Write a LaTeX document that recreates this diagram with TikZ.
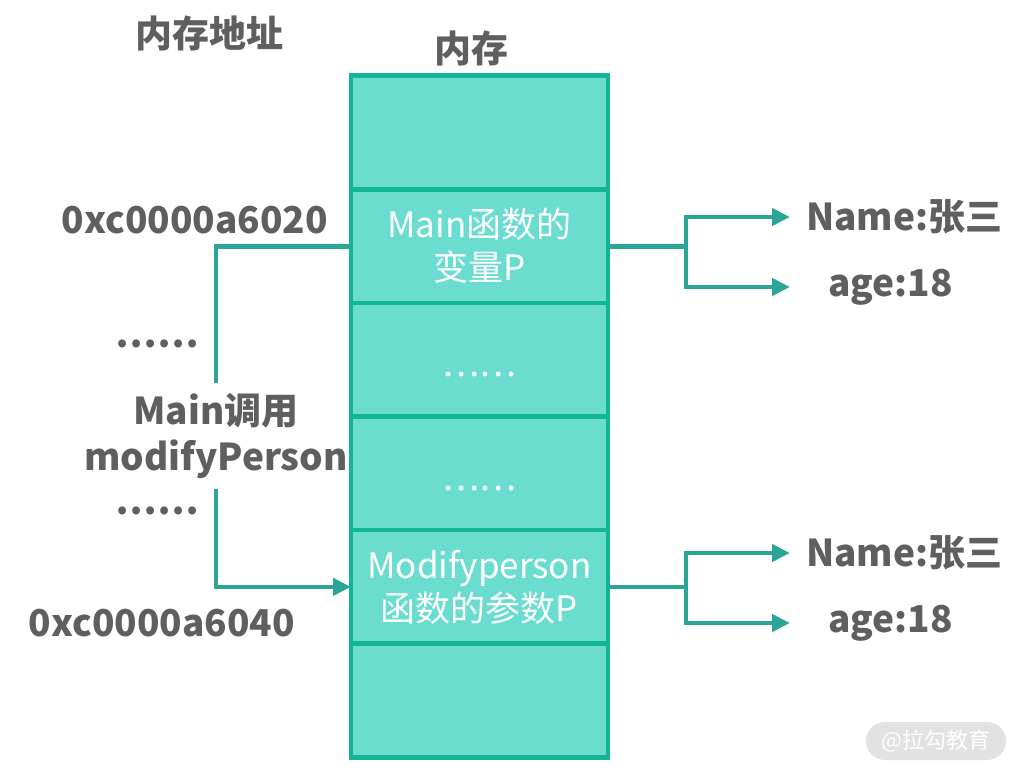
\documentclass[tikz,border=0pt]{standalone}
\usepackage{fontspec}
\setmainfont{Noto Sans CJK SC}
\usetikzlibrary{positioning,arrows.meta,shadows}

\definecolor{cellfill}{RGB}{106,221,208}
\definecolor{cellline}{RGB}{18,182,150}
\definecolor{linkcol}{RGB}{42,165,150}
\definecolor{labgray}{RGB}{95,95,95}
\definecolor{markgray}{RGB}{226,226,226}

\begin{document}
\begin{tikzpicture}[x=1pt,y=-1pt,
  cell/.style={rectangle,draw=cellline,fill=cellfill,line width=4.5pt,
    minimum width=257pt,minimum height=113.6pt,inner sep=0pt,outer sep=0pt,
    text=white,align=center,font=\fontsize{35}{43}\selectfont,
    drop shadow={shadow xshift=2pt,shadow yshift=-3pt,opacity=0.25}},
  lab/.style={text=labgray,inner sep=0pt,align=center,
    font=\fontsize{37}{46}\selectfont\bfseries},
  tag/.style={lab,anchor=west,outer xsep=16pt},
  link/.style={draw=linkcol,line width=4.8pt},
  arr/.style={link,-{Triangle[length=18pt,width=17pt]}}]
\useasboundingbox (0,0) rectangle (1023,773);

% memory column
\node (c1) [cell] at (479.5,132.5) {};
\node (c2) [cell,below=0pt of c1] {Main函数的\\变量P};
\node (c3) [cell,below=0pt of c2] {\raisebox{-17pt}[0pt][0pt]{……}};
\node (c4) [cell,below=0pt of c3] {\raisebox{-17pt}[0pt][0pt]{……}};
\node (c5) [cell,below=0pt of c4] {Modifyperson\\函数的参数P};
\node (c6) [cell,below=0pt of c5] {};

% headings and addresses
\node (addrhead) [lab] at (209,33) {内存地址};
\node (memhead) [lab] at (471,48) {内存};
\node (addr1) [lab] at (195,220) {0xc0000a6020};
\node (addr2) [lab] at (162,623) {0xc0000a6040};
\node (dots1) [lab] at (157,344) {……};
\node (dots2) [lab] at (157,511) {……};
\node (call) [lab,inner ysep=10pt] at (216,436) {Main调用\\modifyPerson};

% fields
\node (name1) [tag] at (790,217) {Name:张三};
\node (age1) [tag] at (812,287) {age:18};
\node (name2) [tag] at (790,553) {Name:张三};
\node (age2) [tag] at (812,623) {age:18};

% connectors
\draw [link] (c2.west) -| (call.north);
\draw [arr] (call.south) |- (c5.west);
\draw [link] (c2.east) -- ++(78,0) coordinate (b1);
\draw [arr] (b1) |- (name1.west);
\draw [arr] (b1) |- (age1.west -| name1.west);
\draw [link] (c5.east) -- ++(78,0) coordinate (b2);
\draw [arr] (b2) |- (name2.west);
\draw [arr] (b2) |- (age2.west -| name2.west);

% watermark
\node (mark) [rounded corners=19pt,fill=markgray,minimum width=140pt,
  minimum height=38pt,text=white,font=\fontsize{22}{22}\selectfont]
  at (936,741) {@拉勾教育};
\end{tikzpicture}
\end{document}
